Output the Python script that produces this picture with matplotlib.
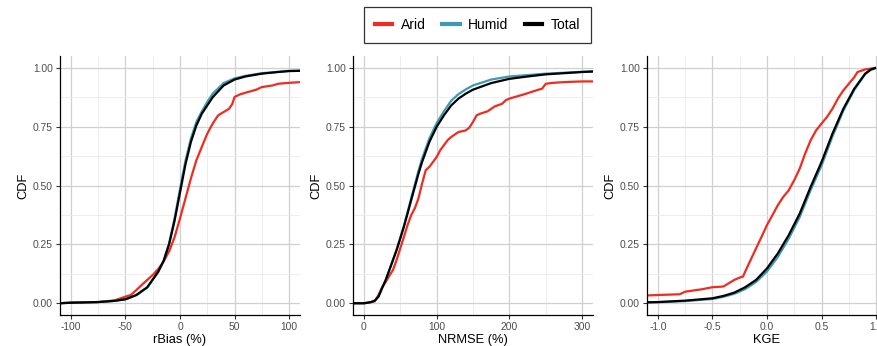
"""CDF comparison of rBias, NRMSE and KGE for arid, humid and all catchments."""

import matplotlib

matplotlib.use("Agg")
import matplotlib.pyplot as plt
from matplotlib.lines import Line2D
from matplotlib.ticker import MultipleLocator, FormatStrFormatter

plt.rcParams["font.family"] = ["Liberation Sans", "DejaVu Sans"]

# ---- data (x value, CDF) ----
rbias_total_x = [-110, -100, -75, -60, -50, -40, -30, -20, -15, -10, -5, 0, 5, 10, 15, 20,
                 25, 30, 40, 50, 60, 75, 90, 100, 110]
rbias_total_y = [0.0, 0.002, 0.005, 0.01, 0.017, 0.035, 0.068, 0.134, 0.18, 0.25, 0.35, 0.47,
                 0.59, 0.685, 0.755, 0.805, 0.84, 0.875, 0.925, 0.95, 0.963, 0.975, 0.982,
                 0.986, 0.987]
rbias_humid_x = [-110, -100, -75, -60, -50, -40, -30, -20, -15, -10, -5, 0, 5, 10, 15, 20,
                 25, 30, 40, 50, 60, 75, 90, 100, 110]
rbias_humid_y = [0.0, 0.002, 0.005, 0.01, 0.016, 0.034, 0.066, 0.132, 0.18, 0.255, 0.36, 0.485,
                 0.605, 0.7, 0.77, 0.815, 0.855, 0.89, 0.935, 0.955, 0.966, 0.977, 0.983,
                 0.987, 0.988]
rbias_arid_x = [-110, -100, -75, -60, -50, -45, -40, -35, -30, -25, -20, -15, -10, -5, 0, 5,
                10, 15, 20, 25, 30, 35, 40, 45, 48, 50, 55, 60, 70, 75, 85, 90, 100, 110]
rbias_arid_y = [0.0, 0.003, 0.005, 0.012, 0.028, 0.035, 0.056, 0.078, 0.099, 0.12, 0.145,
                0.177, 0.22, 0.28, 0.36, 0.445, 0.53, 0.607, 0.664, 0.72, 0.763, 0.798, 0.812,
                0.826, 0.847, 0.876, 0.887, 0.894, 0.907, 0.918, 0.925, 0.932, 0.936, 0.939]

nrmse_total_x = [-15, 0, 5, 10, 15, 20, 25, 30, 35, 40, 45, 50, 55, 60, 65, 70, 75, 80, 90,
                 100, 110, 120, 130, 140, 150, 175, 200, 225, 250, 275, 300, 315]
nrmse_total_y = [0.0, 0.0, 0.002, 0.005, 0.011, 0.028, 0.064, 0.099, 0.141, 0.184, 0.226,
                 0.275, 0.325, 0.381, 0.438, 0.494, 0.55, 0.6, 0.685, 0.749, 0.798, 0.84,
                 0.869, 0.89, 0.907, 0.935, 0.953, 0.963, 0.972, 0.977, 0.982, 0.984]
nrmse_humid_x = [-15, 0, 5, 10, 15, 20, 25, 30, 35, 40, 45, 50, 55, 60, 65, 70, 75, 80, 90,
                 100, 110, 120, 130, 140, 150, 175, 200, 225, 250, 275, 300, 315]
nrmse_humid_y = [0.0, 0.0, 0.002, 0.005, 0.011, 0.028, 0.064, 0.099, 0.141, 0.184, 0.228,
                 0.278, 0.33, 0.387, 0.446, 0.504, 0.562, 0.614, 0.7, 0.765, 0.815, 0.86,
                 0.888, 0.908, 0.925, 0.95, 0.963, 0.969, 0.975, 0.979, 0.983, 0.985]
nrmse_arid_x = [-15, 0, 5, 10, 15, 20, 25, 30, 35, 40, 45, 50, 55, 60, 65, 70, 75, 80, 85, 90,
                95, 100, 105, 110, 115, 120, 130, 140, 145, 150, 155, 160, 170, 180, 190, 195,
                200, 210, 220, 230, 240, 245, 250, 260, 275, 300, 315]
nrmse_arid_y = [0.0, 0.0, 0.002, 0.005, 0.008, 0.035, 0.068, 0.09, 0.117, 0.141, 0.184, 0.233,
                0.282, 0.332, 0.374, 0.403, 0.445, 0.508, 0.565, 0.579, 0.6, 0.621, 0.65,
                0.671, 0.692, 0.706, 0.727, 0.734, 0.746, 0.77, 0.798, 0.805, 0.815, 0.836,
                0.847, 0.862, 0.869, 0.878, 0.887, 0.897, 0.907, 0.911, 0.932, 0.936, 0.939,
                0.942, 0.942]

kge_total_x = [-1.1, -1.0, -0.75, -0.5, -0.4, -0.3, -0.2, -0.1, 0.0, 0.1, 0.2, 0.3, 0.4, 0.5,
               0.6, 0.7, 0.8, 0.9, 0.95, 1.0]
kge_total_y = [0.004, 0.005, 0.011, 0.021, 0.031, 0.045, 0.068, 0.099, 0.148, 0.212, 0.29,
               0.381, 0.494, 0.6, 0.72, 0.826, 0.911, 0.975, 0.992, 1.0]
kge_humid_x = [-1.1, -1.0, -0.75, -0.5, -0.4, -0.3, -0.2, -0.1, 0.0, 0.1, 0.2, 0.3, 0.4, 0.5,
               0.6, 0.7, 0.8, 0.9, 0.95, 1.0]
kge_humid_y = [0.003, 0.004, 0.009, 0.018, 0.027, 0.04, 0.06, 0.09, 0.135, 0.197, 0.275, 0.366,
               0.48, 0.585, 0.708, 0.818, 0.906, 0.973, 0.991, 1.0]
kge_arid_x = [-1.1, -1.0, -0.8, -0.75, -0.6, -0.5, -0.4, -0.35, -0.3, -0.25, -0.22, -0.2,
              -0.15, -0.1, -0.05, 0.0, 0.05, 0.1, 0.15, 0.2, 0.25, 0.3, 0.35, 0.4, 0.45, 0.5,
              0.55, 0.6, 0.65, 0.7, 0.75, 0.8, 0.83, 0.9, 1.0]
kge_arid_y = [0.033, 0.035, 0.038, 0.049, 0.059, 0.068, 0.071, 0.085, 0.099, 0.109, 0.113,
              0.134, 0.184, 0.233, 0.282, 0.332, 0.374, 0.417, 0.452, 0.48, 0.523, 0.572,
              0.636, 0.692, 0.734, 0.763, 0.791, 0.826, 0.869, 0.904, 0.932, 0.96, 0.982,
              0.993, 1.0]

colors = {"Arid": "#EE2C1F", "Humid": "#3C9AB2", "Total": "#000000"}

panels = [
    ("rBias (%)", (-110, 110), 50, 25, "%d",
     [(rbias_arid_x, rbias_arid_y), (rbias_humid_x, rbias_humid_y), (rbias_total_x, rbias_total_y)]),
    ("NRMSE (%)", (-15, 315), 100, 50, "%d",
     [(nrmse_arid_x, nrmse_arid_y), (nrmse_humid_x, nrmse_humid_y), (nrmse_total_x, nrmse_total_y)]),
    ("KGE", (-1.1, 1.1), 0.5, 0.25, "%.1f",
     [(kge_arid_x, kge_arid_y), (kge_humid_x, kge_humid_y), (kge_total_x, kge_total_y)]),
]

W, H = 877, 346
fig = plt.figure(figsize=(W / 100, H / 100), dpi=100)
lefts = [60, 353, 647]
ax_w, ax_top, ax_bottom = 240, 56, 315

for left, (xlabel, xlim, major, minor, fmt, series) in zip(lefts, panels):
    ax = fig.add_axes([left / W, (H - ax_bottom) / H, ax_w / W, (ax_bottom - ax_top) / H])
    for (xs, ys), name in zip(series, ["Arid", "Humid", "Total"]):
        ax.plot(xs, ys, color=colors[name], linewidth=1.6, solid_capstyle="butt")
    ax.set_xlim(*xlim)
    ax.set_ylim(-0.05, 1.05)
    ax.xaxis.set_major_locator(MultipleLocator(major))
    ax.xaxis.set_minor_locator(MultipleLocator(minor))
    ax.yaxis.set_major_locator(MultipleLocator(0.25))
    ax.yaxis.set_minor_locator(MultipleLocator(0.125))
    ax.xaxis.set_major_formatter(FormatStrFormatter(fmt))
    ax.yaxis.set_major_formatter(FormatStrFormatter("%.2f"))
    ax.grid(True, which="major", color="#D0D0D0", linewidth=0.9)
    ax.grid(True, which="minor", color="#EAEAEA", linewidth=0.6)
    ax.set_axisbelow(True)
    for side in ("top", "right"):
        ax.spines[side].set_visible(False)
    for side in ("left", "bottom"):
        ax.spines[side].set_linewidth(0.9)
    ax.tick_params(which="major", length=3, width=0.8, color="#333333",
                   labelsize=7.4, labelcolor="#4D4D4D", pad=2)
    ax.tick_params(which="minor", length=0)
    ax.set_xlabel(xlabel, fontsize=9.3, labelpad=1.5)
    ax.set_ylabel("CDF", fontsize=9.3, labelpad=3)

handles = [Line2D([], [], color=colors[n], linewidth=3) for n in ["Arid", "Humid", "Total"]]
leg = fig.legend(handles, ["Arid", "Humid", "Total"], loc="center", ncol=3,
                 bbox_to_anchor=(477.5 / W, 1 - 25 / H), fontsize=10, frameon=True,
                 fancybox=False, edgecolor="black", handlelength=1.25, handletextpad=0.6,
                 columnspacing=1.2, borderpad=0.8, borderaxespad=0)
leg.get_frame().set_linewidth(0.9)

fig.savefig("out.png", dpi=100)
